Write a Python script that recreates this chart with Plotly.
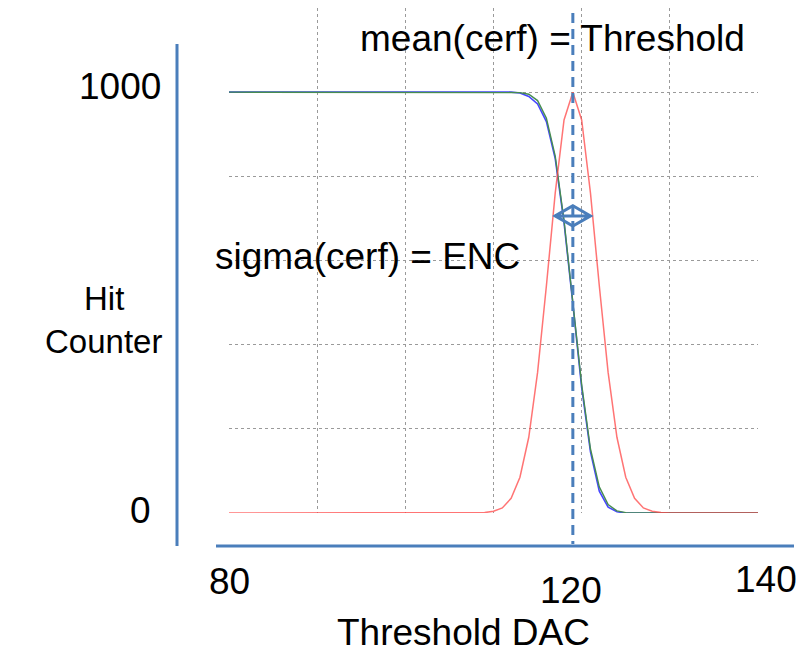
import plotly.graph_objects as go

# Threshold scan: DAC setting vs. number of hits out of 1000 injections
dac = list(range(80, 141))

# S-curve (measured hits), two overlapping scans
hits_scan_a = [1000] * 33 + [998, 990, 972, 930, 842, 690, 497, 298, 145, 52, 14, 3, 0] + [0] * 15
hits_scan_b = [1000] * 33 + [999, 995, 980, 938, 848, 695, 500, 305, 152, 62, 20, 5, 1] + [0] * 15
# Derivative-like peak of the S-curve
hits_peak = [0] * 29 + [1, 4, 12, 35, 85, 180, 334, 540, 760, 934, 1000,
                        934, 760, 540, 334, 180, 85, 35, 12, 4, 1] + [0] * 11

threshold_mean = 119   # mean(cerf)
enc_sigma = 2          # sigma(cerf)
enc_arrow_level = 706
enc_arrow_half_height = 24

x_tick_labels = ["80", "120", "140"]
y_tick_labels = ["0", "1000"]

AXIS_BLUE = "#4a7ebb"
FONT = "Arial, Liberation Sans, sans-serif"

# plot-area geometry in pixels (for placing the free text)
W, H = 801, 654
L, R, T, B = 229, 43, 8, 141
PW, PH = W - L - R, H - T - B


def px(x):
    return (x - L) / PW


def py(y):
    return (H - B - y) / PH


fig = go.Figure()
fig.add_trace(go.Scatter(x=dac, y=hits_scan_a, mode="lines",
                         line=dict(color="rgb(70,70,255)", width=1.6), hoverinfo="skip"))
fig.add_trace(go.Scatter(x=dac, y=hits_scan_b, mode="lines",
                         line=dict(color="rgb(70,140,80)", width=1.4), hoverinfo="skip"))
fig.add_trace(go.Scatter(x=dac, y=hits_peak, mode="lines",
                         line=dict(color="rgba(255,70,70,0.75)", width=1.5), hoverinfo="skip"))

shapes = [
    # vertical axis line
    dict(type="line", xref="paper", yref="paper", x0=px(177), x1=px(177), y0=py(44), y1=py(546),
         line=dict(color=AXIS_BLUE, width=3)),
    # horizontal axis line
    dict(type="line", xref="paper", yref="paper", x0=px(216), x1=px(794), y0=py(546), y1=py(546),
         line=dict(color=AXIS_BLUE, width=3)),
    # threshold (mean) marker
    dict(type="line", xref="x", yref="paper", x0=threshold_mean, x1=threshold_mean,
         y0=py(13), y1=py(544), line=dict(color=AXIS_BLUE, width=3, dash="10px,6px")),
]

# ENC (sigma) double arrow: diamond outline with a crossbar
xl, xr = threshold_mean - enc_sigma, threshold_mean + enc_sigma
yc, dh = enc_arrow_level, enc_arrow_half_height
diamond = (f"M {xl},{yc} L {threshold_mean},{yc + dh} L {xr},{yc} "
           f"L {threshold_mean},{yc - dh} Z M {xl},{yc} L {xr},{yc}")
shapes.append(dict(type="path", xref="x", yref="y", path=diamond,
                   line=dict(color=AXIS_BLUE, width=3)))

ann = []


def text(t, x, y, xanchor="center", size=37):
    ann.append(dict(text=t, xref="paper", yref="paper", x=px(x), y=py(y),
                    xanchor=xanchor, yanchor="middle", showarrow=False,
                    font=dict(family=FONT, size=size, color="black")))


text("mean(cerf) = Threshold", 358, 38, "left")
text("sigma(cerf) = ENC", 213, 256, "left")
text(y_tick_labels[1], 163, 86, "right")
text(y_tick_labels[0], 140, 510)
text("Hit", 104, 298, size=33)
text("Counter", 103, 342, size=33)
text(x_tick_labels[0], 229, 581)
text(x_tick_labels[1], 571, 590)
text(x_tick_labels[2], 766, 579)
text("Threshold DAC", 463, 632)

grid = dict(showgrid=True, gridcolor="#9a9a9a", gridwidth=1, griddash="dot",
            showticklabels=False, ticks="", zeroline=False, showline=False)

fig.update_layout(
    width=W, height=H,
    margin=dict(l=L, r=R, t=T, b=B),
    paper_bgcolor="white", plot_bgcolor="white",
    showlegend=False,
    shapes=shapes, annotations=ann,
    xaxis=dict(range=[80, 140], tickvals=[90, 100, 110, 120, 130], **grid),
    yaxis=dict(range=[0, 1200], tickvals=[200, 400, 600, 800, 1000], **grid),
)

fig.write_html("out.html", config={"displayModeBar": False})
